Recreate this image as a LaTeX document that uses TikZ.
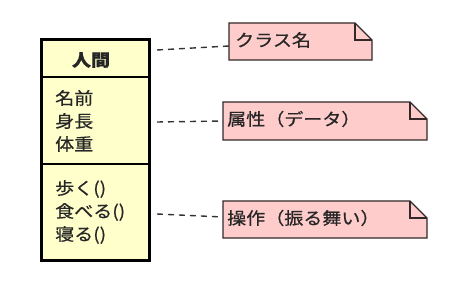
\documentclass[tikz,border=0pt]{standalone}
\usepackage{fontspec}
\setmainfont{Noto Sans CJK JP}[FakeStretch=1.12, FakeBold=0.6]
\definecolor{classfill}{RGB}{255,255,204}
\definecolor{notefill}{RGB}{255,204,204}
\definecolor{notedraw}{RGB}{50,40,40}
\tikzset{
  txt/.style={inner sep=0pt, anchor=west, font=\fontsize{17}{19}\selectfont, text=black!85},
  notebox/.style={fill=notefill, draw=notedraw, line width=1.2pt, line join=miter},
  conn/.style={draw=black!80, line width=1.4pt, dash pattern=on 6pt off 5pt},
}
\newcommand{\notedraw}[5]{% x1,y1,x2,y2,name
  \path[notebox] (#1,#2) -- (#3-17,#2) -- (#3,#2+17) -- (#3,#4) -- (#1,#4) -- cycle;
  \draw[notedraw, line width=1.2pt] (#3-17,#2) -- (#3-17,#2+17) -- (#3,#2+17);
  \coordinate (#5) at (#1,#2);
}
\begin{document}
\begin{tikzpicture}[x=1pt,y=-1pt]
\useasboundingbox[fill=white] (0,0) rectangle (474,283);
% class box
\node[draw=black, fill=classfill, line width=2.8pt, minimum width=108pt, minimum height=221pt, inner sep=0pt, anchor=north west] (cls) at (40,38) {};
\draw[line width=1.5pt] (cls.west |- 0,77) coordinate (d1l) -- (cls.east |- 0,77) coordinate (d1r);
\draw[line width=1.5pt] (cls.west |- 0,164) coordinate (d2l) -- (cls.east |- 0,164) coordinate (d2r);
\node[txt, anchor=center, font=\fontsize{17}{19}\bfseries\selectfont] (name) at (91,60) {人間};
\node[txt] (a1) at (55,98) {名前};
\node[txt] (a2) at (55,121) {身長};
\node[txt] (a3) at (55,144) {体重};
\node[txt] (m1) at (55,189) {歩く()};
\node[txt] (m2) at (55,212) {食べる()};
\node[txt] (m3) at (55,235) {寝る()};
% notes
\notedraw{229}{23}{372}{60}{n1}
\notedraw{223}{102}{427}{140}{n2}
\notedraw{223}{201}{427}{238}{n3}
\node[txt] (t1) at (235,40) {クラス名};
\node[txt] (t2) at (227,119) {属性（データ）};
\node[txt] (t3) at (227,218) {操作（振る舞い）};
% connectors
\coordinate (c1s) at (157,50); \coordinate (c1e) at (229,46);
\coordinate (c2s) at (157,122); \coordinate (c2e) at (223,121);
\coordinate (c3s) at (157,214); \coordinate (c3e) at (223,217);
\draw[conn] (c1s) -- (c1e);
\draw[conn] (c2s) -- (c2e);
\draw[conn] (c3s) -- (c3e);
\end{tikzpicture}
\end{document}
